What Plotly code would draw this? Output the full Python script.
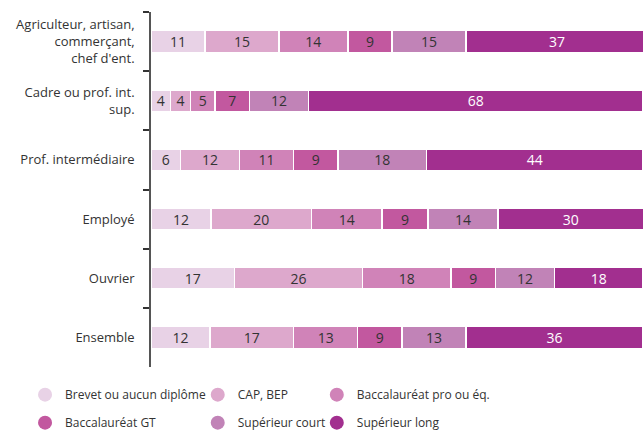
import plotly.graph_objects as go

categories = [
    "Agriculteur, artisan,<br>commerçant,<br>chef d'ent.",
    "Cadre ou prof. int.<br>sup.",
    "Prof. intermédiaire",
    "Employé",
    "Ouvrier",
    "Ensemble",
]

# shares in % (labels are the rounded values)
brevet = [11, 4, 6, 12.2, 17, 12]
cap_bep = [15, 4, 12, 20.4, 26, 17]
bac_pro = [14, 5, 11, 14.4, 18, 13]
bac_gt = [9, 7, 9, 9.3, 9, 9]
sup_court = [15, 12, 18, 14.2, 12, 13]
sup_long = [37, 68, 44, 29.6, 18, 36]

series = [
    ("Brevet ou aucun diplôme", brevet, "#E8D2E6", "#333333", "legend"),
    ("CAP, BEP", cap_bep, "#DDA8CC", "#333333", "legend2"),
    ("Baccalauréat pro ou éq.", bac_pro, "#D083B8", "#333333", "legend3"),
    ("Baccalauréat GT", bac_gt, "#C2589F", "#333333", "legend"),
    ("Supérieur court", sup_court, "#C183B7", "#333333", "legend2"),
    ("Supérieur long", sup_long, "#A22F8F", "#FFFFFF", "legend3"),
]

FONT = "Open Sans"

fig = go.Figure()

for name, vals, color, tcolor, leg in series:
    fig.add_trace(go.Bar(
        y=categories,
        x=vals,
        orientation="h",
        name=name,
        marker=dict(color=color, line=dict(color="white", width=1.5)),
        width=0.37,
        texttemplate="%{x:.0f}",
        textposition="inside",
        insidetextanchor="middle",
        textangle=0,
        constraintext="none",
        textfont=dict(family=FONT, size=14, color=tcolor),
        showlegend=False,
        hoverinfo="skip",
    ))

# legend-only entries with round markers
for name, vals, color, tcolor, leg in series:
    fig.add_trace(go.Scatter(
        x=[None],
        y=[None],
        mode="markers",
        name=name,
        marker=dict(size=14, color=color),
        legend=leg,
        legendgroup=name,
        showlegend=True,
    ))

leg_style = dict(
    orientation="v",
    yanchor="top",
    y=-0.037,
    xanchor="left",
    font=dict(family=FONT, size=12, color="#333333"),
    tracegroupgap=9,
    bgcolor="rgba(0,0,0,0)",
    itemsizing="trace",
)

fig.update_layout(
    barmode="stack",
    width=643,
    height=432,
    margin=dict(l=151, r=0, t=12, b=65, autoexpand=False),
    plot_bgcolor="white",
    paper_bgcolor="white",
    font=dict(family=FONT, size=13, color="#333333"),
    legend=dict(x=-0.256, **leg_style),
    legend2=dict(x=0.095, **leg_style),
    legend3=dict(x=0.337, **leg_style),
    xaxis=dict(
        range=[0, 100],
        visible=False,
        showgrid=False,
        zeroline=False,
    ),
    yaxis=dict(
        autorange="reversed",
        automargin=False,
        showline=True,
        linecolor="#555555",
        linewidth=1.5,
        ticks="outside",
        tickson="boundaries",
        ticklen=6,
        tickcolor="#333333",
        tickwidth=1.5,
        ticklabelstandoff=12,
        showgrid=False,
        zeroline=False,
        tickfont=dict(family=FONT, size=13, color="#333333"),
    ),
)

# drop the default page margin so the figure sits at the top-left corner
fig.write_html(
    "out.html",
    config={"displayModeBar": False},
    post_script="document.body.style.margin='0';",
)
